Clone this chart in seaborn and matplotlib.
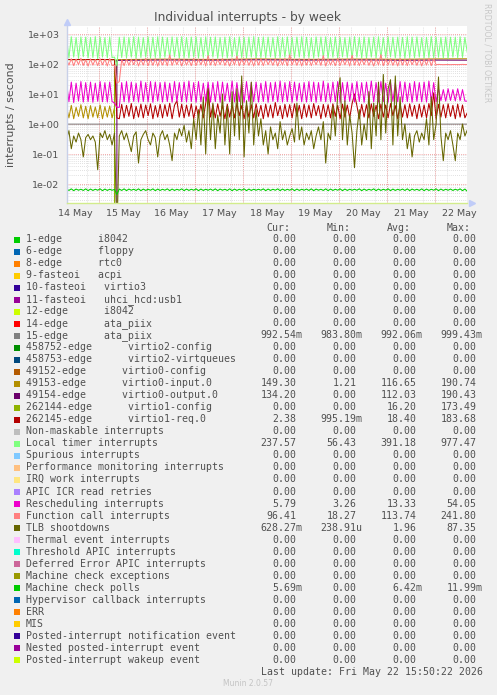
import numpy as np
import pandas as pd
import matplotlib
matplotlib.use("Agg")
import matplotlib.pyplot as plt
import seaborn as sns
from matplotlib.patches import Rectangle
from matplotlib.ticker import FixedLocator, MultipleLocator, LogLocator, FuncFormatter, NullFormatter

# ---------------- data ----------------
TITLE = "Individual interrupts - by week"
Y_LABEL = "interrupts / second"
DAY_LABELS = ["14 May", "15 May", "16 May", "17 May", "18 May", "19 May", "20 May", "21 May", "22 May"]
START_H = 7.75      # hours after 14 May 00:00 of first sample
STEP_H = 1.2        # hours between samples
END_H = 208.25

LOCAL_TIMER = [
    780, 160, 810, 170, 760, 155, 800, 175, 790, 160, 770, 165, 820, 150, 790, 170, 760, 160, 800, 165,
    170, 88, 780, 165, 800, 160, 770, 170, 810, 155, 790, 165, 760, 170, 800, 160, 780, 165, 810, 158,
    790, 168, 760, 160, 800, 172, 780, 155, 810, 165, 770, 160, 790, 170, 800, 158, 760, 165, 810, 162,
    780, 170, 800, 155, 770, 168, 790, 160, 810, 172, 760, 158, 800, 165, 780, 160, 790, 170, 820, 155,
    770, 165, 800, 160, 790, 172, 760, 158, 810, 165, 780, 168, 800, 155, 770, 162, 790, 170, 810, 160,
    780, 165, 760, 158, 800, 170, 790, 162, 810, 155, 770, 168, 800, 160, 780, 172, 760, 165, 790, 158,
    810, 168, 780, 160, 800, 155, 770, 170, 790, 162, 810, 158, 760, 165, 800, 172, 780, 160, 790, 168,
    770, 155, 810, 165, 790, 160, 800, 170, 760, 158, 780, 165, 810, 162, 790, 168, 770, 160, 800, 155,
    780, 170, 790, 162, 810, 165, 770, 238,
]
FUNCTION_CALL = [
    140, 92, 150, 88, 145, 95, 155, 90, 138, 85, 148, 92, 142, 88, 150, 94, 145, 86, 152, 90,
    90, 23, 26, 140, 88, 148, 90, 145, 95, 150, 86, 142, 92, 155, 88, 147, 90, 150, 85, 145,
    92, 150, 88, 200, 90, 145, 95, 152, 86, 148, 92, 140, 88, 155, 90, 146, 94, 150, 86, 190,
    92, 148, 88, 145, 95, 152, 90, 140, 86, 150, 92, 185, 88, 146, 94, 150, 90, 143, 86, 155,
    92, 148, 88, 152, 95, 140, 90, 150, 86, 146, 92, 155, 88, 200, 94, 145, 90, 150, 86, 148,
    92, 152, 88, 145, 95, 150, 90, 190, 86, 148, 92, 140, 88, 155, 90, 146, 94, 150, 86, 195,
    92, 148, 88, 145, 95, 152, 90, 140, 86, 150, 92, 205, 88, 146, 94, 150, 90, 143, 86, 155,
    92, 148, 88, 152, 95, 140, 90, 150, 86, 146, 92, 155, 88, 148, 94, 97, 96, 95, 96, 96,
    95, 96, 96, 95, 96, 97, 96, 96.4,
]
VIRTIO1_REQ = [
    140, 142, 138, 141, 139, 143, 140, 137, 141, 140, 142, 139, 138, 141, 140, 143, 139, 141, 140, 138,
    141, 1.6, 1.5, 4.5, 1.6, 4.2, 1.8, 4.8, 1.5, 3.9, 1.7, 4.6, 1.6, 4.3, 1.9, 4.7, 1.5, 4.1, 1.7, 4.5,
    1.6, 4.4, 1.8, 4.9, 1.5, 4.2, 6.0, 1.7, 4.6, 1.6, 4.3, 1.8, 4.7, 1.5, 4.0, 1.7, 4.5, 1.6, 4.8, 17,
    1.7, 4.4, 1.6, 4.7, 1.8, 4.2, 1.5, 4.6, 1.7, 4.3, 1.6, 4.8, 1.9, 4.1, 1.5, 4.5, 1.7, 4.4, 1.6, 4.7,
    1.8, 4.2, 1.5, 4.6, 1.7, 4.3, 1.6, 5.2, 1.9, 4.1, 1.5, 4.5, 1.7, 4.4, 1.6, 4.7, 1.8, 4.2, 1.5, 4.6,
    1.7, 4.3, 1.6, 4.8, 1.9, 4.1, 1.5, 4.5, 1.7, 4.4, 1.6, 4.7, 1.8, 4.2, 1.5, 4.6, 1.7, 4.3, 1.6, 4.8,
    10, 4.1, 1.5, 4.5, 1.7, 4.4, 1.6, 4.7, 1.8, 4.2, 1.5, 4.6, 1.7, 4.3, 1.6, 4.8, 1.9, 4.1, 1.5, 4.5,
    1.7, 4.4, 1.6, 4.7, 1.8, 4.2, 1.5, 4.6, 1.7, 4.3, 1.6, 4.8, 1.9, 11, 1.5, 4.5, 1.7, 4.4, 1.6, 4.7,
    1.8, 4.2, 1.5, 4.6, 1.7, 4.3, 1.6, 2.38,
]
RESCHEDULING = [
    24, 5.5, 25, 5.2, 23, 5.8, 26, 5.4, 24, 5.6, 25, 5.3, 23, 5.7, 26, 5.5, 24, 5.4, 25, 5.6,
    5.0, 3.6, 3.6, 24, 5.5, 26, 5.3, 25, 5.7, 23, 5.4, 27, 5.6, 24, 5.5, 26, 5.3, 25, 5.8, 24,
    5.4, 25, 5.6, 23, 5.3, 26, 5.7, 24, 5.5, 25, 5.4, 27, 5.6, 24, 5.3, 26, 5.5, 23, 5.7, 25,
    5.4, 24, 5.6, 26, 5.3, 25, 5.8, 23, 5.5, 27, 5.4, 24, 5.6, 25, 5.3, 26, 5.7, 24, 5.5, 25,
    5.4, 23, 5.6, 26, 5.3, 24, 5.7, 25, 5.5, 27, 5.4, 24, 5.6, 26, 5.3, 25, 5.8, 23, 5.5, 24,
    5.4, 26, 5.6, 25, 5.3, 24, 5.7, 27, 5.5, 23, 5.4, 25, 5.6, 26, 5.3, 24, 5.5, 25, 5.7, 23,
    5.4, 26, 5.6, 24, 5.3, 25, 5.8, 27, 5.5, 24, 5.4, 26, 5.6, 23, 5.3, 25, 5.7, 24, 5.5, 26,
    5.4, 25, 5.6, 23, 5.3, 26, 5.7, 24, 5.5, 25, 5.4, 27, 5.6, 24, 5.5, 15, 6.0, 14, 5.8, 15,
    6.1, 14, 5.9, 15, 6.0, 14, 5.8, 5.79,
]
TLB = [
    0.3, 0.6, 0.15, 0.4, 0.25, 0.5, 0.3, 0.08, 0.35, 0.45, 0.3, 0.4, 0.25, 0.03, 0.5, 0.35, 0.6, 0.3, 0.45, 0.2,
    0.5, 0.0002, 0.4, 0.6, 0.3, 0.5, 0.25, 0.12, 0.4, 0.55, 0.05, 0.3, 0.45, 0.6, 0.3, 0.2, 0.5, 0.35, 0.08, 0.4,
    0.6, 0.3, 0.45, 0.2, 0.06, 0.5, 0.3, 0.7, 0.4, 0.9, 0.25, 0.6, 0.15, 1.5, 0.3, 3, 0.2, 8, 0.1, 15,
    0.3, 5, 0.15, 2, 0.5, 10, 0.2, 4, 0.1, 12, 0.4, 15, 0.3, 40, 0.08, 6, 0.5, 25, 0.2, 3,
    0.4, 1.5, 0.2, 0.6, 0.1, 0.8, 0.3, 0.5, 0.15, 1.2, 0.3, 0.6, 0.2, 0.4, 0.7, 0.25, 5, 0.3, 0.8, 0.2,
    0.5, 0.3, 0.6, 0.15, 0.4, 0.8, 0.3, 1.2, 0.05, 0.5, 0.3, 4, 0.4, 10, 35, 0.3, 6, 0.2, 2, 0.5,
    0.035, 0.6, 3, 0.2, 1, 0.3, 12, 0.15, 5, 0.4, 25, 0.3, 45, 0.5, 15, 30, 0.2, 40, 0.4, 8,
    0.3, 1, 0.15, 0.5, 0.08, 0.4, 0.6, 0.25, 0.5, 0.3, 1.5, 0.2, 8, 0.3, 1, 37, 0.4, 0.06, 0.5, 0.3,
    0.6, 0.2, 0.06, 0.5, 0.3, 1, 0.4, 0.63,
]
MC_POLLS_MILLI = [
    6.8, 6.1, 6.9, 6.0, 6.8, 6.2, 6.7, 6.1, 6.9, 6.0, 6.8, 6.1, 6.7, 6.2, 6.9, 6.0, 6.8, 6.1, 6.7, 6.2,
    6.6, 4.5, 6.8, 6.1, 6.9, 6.0, 6.8, 6.2, 6.7, 6.1, 6.9, 6.0, 6.8, 6.1, 6.7, 6.2, 6.9, 6.0, 6.8, 6.1,
    6.7, 6.2, 6.9, 6.0, 6.8, 6.1, 6.7, 6.2, 6.9, 6.0, 6.8, 6.1, 6.7, 6.2, 6.9, 6.0, 6.8, 6.1, 6.7, 6.2,
    6.8, 6.1, 6.9, 6.0, 6.8, 6.2, 6.7, 6.1, 6.9, 6.0, 6.8, 6.1, 6.7, 6.2, 6.9, 6.0, 6.8, 6.1, 6.7, 6.2,
    6.7, 6.2, 6.9, 6.0, 6.8, 6.1, 6.7, 6.2, 6.9, 6.0, 6.8, 6.1, 6.7, 6.2, 6.9, 6.0, 6.8, 6.1, 6.7, 6.2,
    6.8, 6.1, 6.9, 6.0, 6.8, 6.2, 6.7, 6.1, 6.9, 6.0, 6.8, 6.1, 6.7, 6.2, 6.9, 6.0, 6.8, 6.1, 6.7, 6.2,
    6.7, 6.2, 6.9, 6.0, 6.8, 6.1, 6.7, 6.2, 6.9, 6.0, 6.8, 6.1, 6.7, 6.2, 6.9, 6.0, 6.8, 6.1, 6.7, 6.2,
    6.8, 6.1, 6.9, 6.0, 6.8, 6.2, 6.7, 6.1, 6.9, 6.0, 6.8, 6.1, 6.7, 6.2, 6.9, 6.0, 6.8, 6.1, 6.7, 6.2,
    6.8, 6.1, 6.7, 6.2, 6.9, 6.0, 6.8, 5.69,
]
# sparse series: sample indices and values
ATA_K = [0, 167]
ATA_V = [0.992, 0.9925]
VIRTIO0_IN_K = [0, 1, 2, 3, 4, 5, 6, 7, 8, 9, 10, 11, 12, 13, 14, 15, 16, 17, 18, 19, 20,
                21, 40, 60, 80, 100, 120, 140, 155, 167]
VIRTIO0_IN_V = [3.8, 1.6, 4.2, 1.5, 3.6, 1.8, 4.4, 1.6, 3.9, 1.5, 4.1, 1.7, 3.7, 1.6, 4.3, 1.5, 3.8, 1.7, 4.0, 1.6, 3.5,
                140, 145, 142, 147, 143, 146, 144, 148, 149.3]
VIRTIO0_OUT_K = [0, 20, 21, 40, 60, 80, 100, 120, 140, 155, 167]
VIRTIO0_OUT_V = [0, 0, 132, 136, 134, 138, 135, 137, 133, 135, 134.2]
VIRTIO1_CFG_K = [0, 10, 20, 21, 167]
VIRTIO1_CFG_V = [139, 141, 140, 0, 0]

LEGEND_NAMES = [
    "1-edge      i8042", "6-edge      floppy", "8-edge      rtc0", "9-fasteoi   acpi",
    "10-fasteoi   virtio3", "11-fasteoi   uhci_hcd:usb1", "12-edge      i8042",
    "14-edge      ata_piix", "15-edge      ata_piix", "458752-edge      virtio2-config",
    "458753-edge      virtio2-virtqueues", "49152-edge      virtio0-config",
    "49153-edge      virtio0-input.0", "49154-edge      virtio0-output.0",
    "262144-edge      virtio1-config", "262145-edge      virtio1-req.0",
    "Non-maskable interrupts", "Local timer interrupts", "Spurious interrupts",
    "Performance monitoring interrupts", "IRQ work interrupts", "APIC ICR read retries",
    "Rescheduling interrupts", "Function call interrupts", "TLB shootdowns",
    "Thermal event interrupts", "Threshold APIC interrupts", "Deferred Error APIC interrupts",
    "Machine check exceptions", "Machine check polls", "Hypervisor callback interrupts",
    "ERR", "MIS", "Posted-interrupt notification event", "Nested posted-interrupt event",
    "Posted-interrupt wakeup event",
]
LEGEND_COLORS = [
    "#00CC00", "#0066B3", "#FF8000", "#FFCC00", "#330099", "#990099", "#CCFF00", "#FF0000",
    "#808080", "#008F00", "#00487D", "#B35A00", "#B38F00", "#6B006B", "#8FB300", "#B30000",
    "#BEBEBE", "#80FF80", "#80C9FF", "#FFC080", "#FFE680", "#AA80FF", "#EE00CC", "#FF8080",
    "#666600", "#FFBFFF", "#00FFCC", "#CC6699", "#999900", "#00CC00", "#0066B3", "#FF8000",
    "#FFCC00", "#330099", "#990099", "#CCFF00",
]
CUR = ["0.00", "0.00", "0.00", "0.00", "0.00", "0.00", "0.00", "0.00", "992.54m", "0.00", "0.00", "0.00",
       "149.30", "134.20", "0.00", "2.38", "0.00", "237.57", "0.00", "0.00", "0.00", "0.00", "5.79", "96.41",
       "628.27m", "0.00", "0.00", "0.00", "0.00", "5.69m", "0.00", "0.00", "0.00", "0.00", "0.00", "0.00"]
MIN = ["0.00", "0.00", "0.00", "0.00", "0.00", "0.00", "0.00", "0.00", "983.80m", "0.00", "0.00", "0.00",
       "1.21", "0.00", "0.00", "995.19m", "0.00", "56.43", "0.00", "0.00", "0.00", "0.00", "3.26", "18.27",
       "238.91u", "0.00", "0.00", "0.00", "0.00", "0.00", "0.00", "0.00", "0.00", "0.00", "0.00", "0.00"]
AVG = ["0.00", "0.00", "0.00", "0.00", "0.00", "0.00", "0.00", "0.00", "992.06m", "0.00", "0.00", "0.00",
       "116.65", "112.03", "16.20", "18.40", "0.00", "391.18", "0.00", "0.00", "0.00", "0.00", "13.33", "113.74",
       "1.96", "0.00", "0.00", "0.00", "0.00", "6.42m", "0.00", "0.00", "0.00", "0.00", "0.00", "0.00"]
MAX = ["0.00", "0.00", "0.00", "0.00", "0.00", "0.00", "0.00", "0.00", "999.43m", "0.00", "0.00", "0.00",
       "190.74", "190.43", "173.49", "183.68", "0.00", "977.47", "0.00", "0.00", "0.00", "0.00", "54.05", "241.80",
       "87.35", "0.00", "0.00", "0.00", "0.00", "11.99m", "0.00", "0.00", "0.00", "0.00", "0.00", "0.00"]
LAST_UPDATE = "Last update: Fri May 22 15:50:22 2026"
FOOTER = "Munin 2.0.57"
SIDE_TEXT = "RRDTOOL / TOBI OETIKER"

# ---------------- build long-form table ----------------
def full_hours(vals):
    return START_H + STEP_H * np.arange(len(vals))

def sparse_hours(ks):
    return START_H + STEP_H * np.asarray(ks, dtype=float)

pieces = [
    (LEGEND_NAMES[8], sparse_hours(ATA_K), ATA_V),
    (LEGEND_NAMES[12], sparse_hours(VIRTIO0_IN_K), VIRTIO0_IN_V),
    (LEGEND_NAMES[13], sparse_hours(VIRTIO0_OUT_K), VIRTIO0_OUT_V),
    (LEGEND_NAMES[14], sparse_hours(VIRTIO1_CFG_K), VIRTIO1_CFG_V),
    (LEGEND_NAMES[15], full_hours(VIRTIO1_REQ), VIRTIO1_REQ),
    (LEGEND_NAMES[17], full_hours(LOCAL_TIMER), LOCAL_TIMER),
    (LEGEND_NAMES[22], full_hours(RESCHEDULING), RESCHEDULING),
    (LEGEND_NAMES[23], full_hours(FUNCTION_CALL), FUNCTION_CALL),
    (LEGEND_NAMES[24], full_hours(TLB), TLB),
    (LEGEND_NAMES[29], full_hours(MC_POLLS_MILLI), np.asarray(MC_POLLS_MILLI) / 1000.0),
]
df = pd.concat([pd.DataFrame({"hours": h, "value": np.asarray(v, dtype=float), "series": n})
                for n, h, v in pieces], ignore_index=True)
order = [p[0] for p in pieces]
palette = {n: LEGEND_COLORS[LEGEND_NAMES.index(n)] for n in order}

# ---------------- figure ----------------
W, H = 497, 695
sns.set_theme(style="white")
plt.rcParams["font.family"] = ["DejaVu Sans"]
TXT = "#505050"

fig = plt.figure(figsize=(W / 100, H / 100), dpi=100)
fig.patch.set_facecolor("#F0F0F0")

def fx(x):
    return x / W

def fy(y):
    return 1 - y / H

ax = fig.add_axes([fx(66.5), fy(203), 401 / W, 177 / H])
ax.set_facecolor("white")

sns.lineplot(data=df, x="hours", y="value", hue="series", hue_order=order, palette=palette,
             estimator=None, sort=False, legend=False, linewidth=0.75, ax=ax)

ax.set_yscale("log")
ax.set_xlim(START_H, END_H)
ax.set_ylim(0.00233, 1848)
ax.set_xlabel("")
ax.set_ylabel("")

noons = [12 + 24 * i for i in range(len(DAY_LABELS))]
ax.xaxis.set_major_locator(FixedLocator(noons))
ax.set_xticklabels(DAY_LABELS)
ax.xaxis.set_minor_locator(MultipleLocator(6))
ax.yaxis.set_major_locator(LogLocator(base=10, numticks=20))
ax.yaxis.set_minor_locator(LogLocator(base=10, subs=np.arange(2, 10), numticks=20))
ax.yaxis.set_major_formatter(FuncFormatter(lambda v, p: f"{v:.0e}"))
ax.yaxis.set_minor_formatter(NullFormatter())

ax.set_axisbelow(True)
dots = (0, (1, 1.5))
ax.grid(False)
ax.grid(which="minor", axis="x", color="#D6D6D6", linestyle=dots, linewidth=0.6)
ax.grid(which="minor", axis="y", color="#D6D6D6", linestyle=dots, linewidth=0.6)
ax.grid(which="major", axis="y", color="#F08A8A", linestyle=dots, linewidth=0.6)
for i in range(1, len(DAY_LABELS)):
    ax.axvline(24 * i, color="#F08A8A", linestyle=dots, linewidth=0.6, zorder=0.6)

ax.tick_params(axis="both", which="both", length=0, labelsize=6.8, labelcolor=TXT)
ax.tick_params(axis="y", pad=5)
ax.tick_params(axis="x", pad=4)

for s in ("top", "right"):
    ax.spines[s].set_visible(False)
ax.spines["left"].set_color("#C8D0E8")
ax.spines["left"].set_linewidth(1.0)
ax.spines["bottom"].set_color("#D2EC8C")
ax.spines["bottom"].set_linewidth(1.0)
# axis arrows
ax.plot([1.012], [0], marker=">", markersize=4, color="#C0CCF8", transform=ax.transAxes, clip_on=False)
ax.plot([0], [1.025], marker="^", markersize=4, color="#C0CCF8", transform=ax.transAxes, clip_on=False)

# texts
fig.text(fx(248), fy(18), TITLE, ha="center", va="center", fontsize=8.8, color=TXT)
fig.text(fx(11), fy(115), Y_LABEL, ha="center", va="center", rotation=90, fontsize=7.9, color=TXT)
fig.text(fx(487), fy(53), SIDE_TEXT, ha="center", va="center", rotation=270, fontsize=5.6, color="#C8C8C8")

# legend table
MONO = "DejaVu Sans Mono"
LFS = 7.14
CW = 5.97
COL_END = [302.4, 362.5, 422.6, 482.7]
for j, hdr in enumerate(["Cur:", "Min:", "Avg:", "Max:"]):
    fig.text(fx(COL_END[j] - 2 * CW), fy(228), hdr, ha="right", va="center",
             fontsize=LFS, family=MONO, color=TXT)

ROW0, DY = 239.3, 12.01
for i, name in enumerate(LEGEND_NAMES):
    y = ROW0 + DY * i
    fig.add_artist(Rectangle((fx(14), fy(y + 3.2)), 6 / W, 6 / H, transform=fig.transFigure,
                             facecolor=LEGEND_COLORS[i], edgecolor="none"))
    fig.text(fx(26), fy(y), name, ha="left", va="center", fontsize=LFS, family=MONO, color=TXT)
    for j, s in enumerate((CUR[i], MIN[i], AVG[i], MAX[i])):
        xr = COL_END[j] - (0 if s[-1] in "mu" else CW)
        fig.text(fx(xr), fy(y), s, ha="right", va="center", fontsize=LFS, family=MONO, color=TXT)

fig.text(fx(482.7), fy(671.7), LAST_UPDATE, ha="right", va="center", fontsize=LFS, family=MONO, color=TXT)
fig.text(fx(248), fy(684), FOOTER, ha="center", va="center", fontsize=5.5, color="#C4C4C4")

fig.savefig("out.png", dpi=100, facecolor=fig.get_facecolor())
